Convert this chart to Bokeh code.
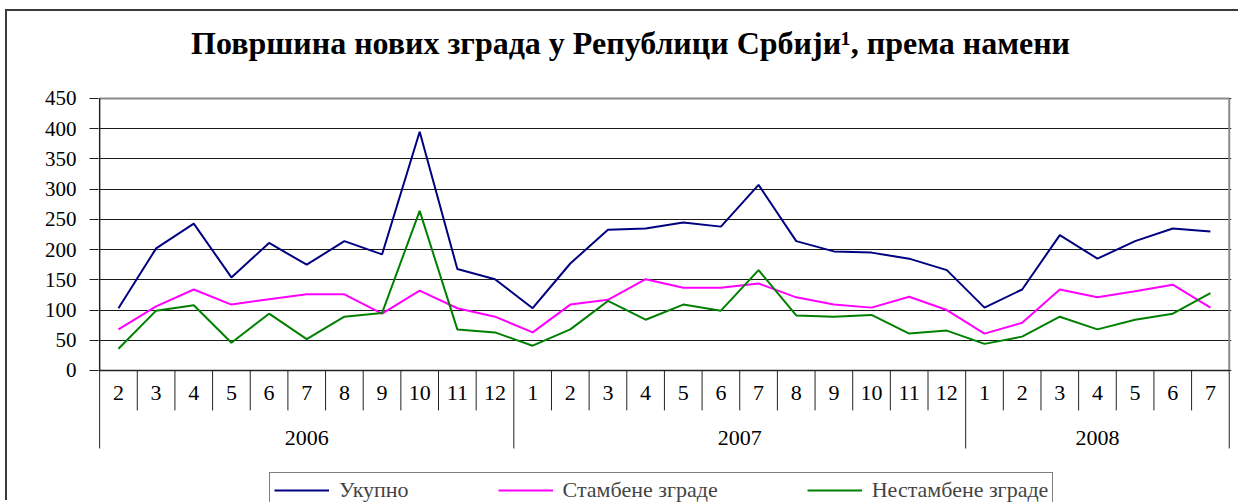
from bokeh.plotting import figure
from bokeh.models import Range1d, FixedTicker
from bokeh.core.properties import value
from bokeh.embed import file_html
from bokeh.resources import INLINE

title = "Површина нових зграда у Републици Србији¹, према намени"
years = ["2006", "2007", "2008"]
year_counts = [11, 12, 7]
months = ["2", "3", "4", "5", "6", "7", "8", "9", "10", "11", "12",
          "1", "2", "3", "4", "5", "6", "7", "8", "9", "10", "11", "12",
          "1", "2", "3", "4", "5", "6", "7"]
ukupno = [103, 202, 243, 154, 211, 175, 214, 192, 395, 168, 151,
          103, 177, 233, 235, 245, 238, 307, 214, 197, 195, 185, 166,
          104, 134, 224, 185, 214, 235, 230]
stambene = [68, 106, 134, 109, 118, 126, 126, 94, 132, 103, 89,
            63, 109, 117, 151, 137, 137, 144, 121, 109, 104, 122, 100,
            61, 79, 134, 121, 131, 142, 104]
nestambene = [36, 99, 108, 46, 94, 52, 89, 95, 264, 68, 63,
              41, 68, 115, 84, 109, 99, 166, 91, 89, 92, 61, 66,
              44, 56, 89, 68, 84, 94, 128]
series_names = ["Укупно", "Стамбене зграде", "Нестамбене зграде"]
y_ticks = [0, 50, 100, 150, 200, 250, 300, 350, 400, 450]

FONT = "Liberation Serif"
n = len(months)
xs = [i + 0.5 for i in range(n)]
ymax = y_ticks[-1]

W, H = 1233, 491
p = figure(width=W, height=H, output_backend="svg", toolbar_location=None,
           x_range=Range1d(-0.03, n + 0.06), y_range=Range1d(-218.4, 593.9),
           min_border_left=91, min_border_right=9, min_border_top=0,
           min_border_bottom=0, x_axis_location=None)
p.styles = {"margin-left": "5px", "margin-top": "9px",
            "border-left": "2px solid #3a3a3a", "border-top": "2px solid #3a3a3a"}
p.outline_line_color = None
p.background_fill_color = "white"
p.border_fill_color = "white"

ax = p.yaxis[0]
ax.ticker = FixedTicker(ticks=y_ticks)
ax.axis_line_color = None
ax.major_tick_in = 0
ax.major_tick_out = 9
ax.major_tick_line_color = "#222222"
ax.minor_tick_line_color = None
ax.major_label_text_font = FONT
ax.major_label_text_font_size = "21px"
ax.major_label_text_color = "black"
ax.major_label_standoff = 13

p.xgrid.visible = False
p.ygrid.ticker = FixedTicker(ticks=y_ticks)
p.ygrid.grid_line_color = "#1a1a1a"
p.ygrid.grid_line_width = 1

# chart title
p.text(x=[14.1], y=[542.6], text=[title], text_align="center", text_baseline="middle",
       text_font=value(FONT), text_font_size="32px", text_font_style="bold", text_color="black")

# plot area frame (top & right), y axis line, x axis line
p.segment(x0=[0, n], y0=[ymax, 0], x1=[n, n], y1=[ymax, ymax],
          line_color="#8a8a8a", line_width=2)
p.segment(x0=[0], y0=[0], x1=[0], y1=[ymax], line_color="#222222", line_width=1.5)
p.segment(x0=[0], y0=[0], x1=[n], y1=[0], line_color="#222222", line_width=1.5)

# category separators
bounds = [0]
for c in year_counts:
    bounds.append(bounds[-1] + c)
month_seps = [b for b in range(1, n) if b not in bounds]
p.segment(x0=month_seps, y0=[0] * len(month_seps), x1=month_seps, y1=[-66] * len(month_seps),
          line_color="#222222", line_width=1)
p.segment(x0=bounds, y0=[0] * len(bounds), x1=bounds, y1=[-129] * len(bounds),
          line_color="#222222", line_width=1)

# month and year labels
p.text(x=xs, y=[-38] * n, text=months, text_align="center", text_baseline="middle",
       text_font=value(FONT), text_font_size="22px", text_color="black")
year_x = [(bounds[i] + bounds[i + 1]) / 2 for i in range(len(years))]
p.text(x=year_x, y=[-111] * len(years), text=years, text_align="center", text_baseline="middle",
       text_font=value(FONT), text_font_size="22px", text_color="black")

colors = ["#000080", "#FF00FF", "#008000"]
for vals, name, col in zip([ukupno, stambene, nestambene], series_names, colors):
    p.line(xs, vals, line_color=col, line_width=2, legend_label=name)

lg = p.legend[0]
lg.orientation = "horizontal"
lg.location = (171, -6)
lg.border_line_color = "black"
lg.border_line_width = 1
lg.background_fill_alpha = 1
lg.label_text_font = FONT
lg.label_text_font_size = "22px"
lg.label_standoff = 10
lg.glyph_width = 55
lg.spacing = 89
lg.padding = 4
lg.margin = 0

open("out.html", "w").write(file_html(p, INLINE))
